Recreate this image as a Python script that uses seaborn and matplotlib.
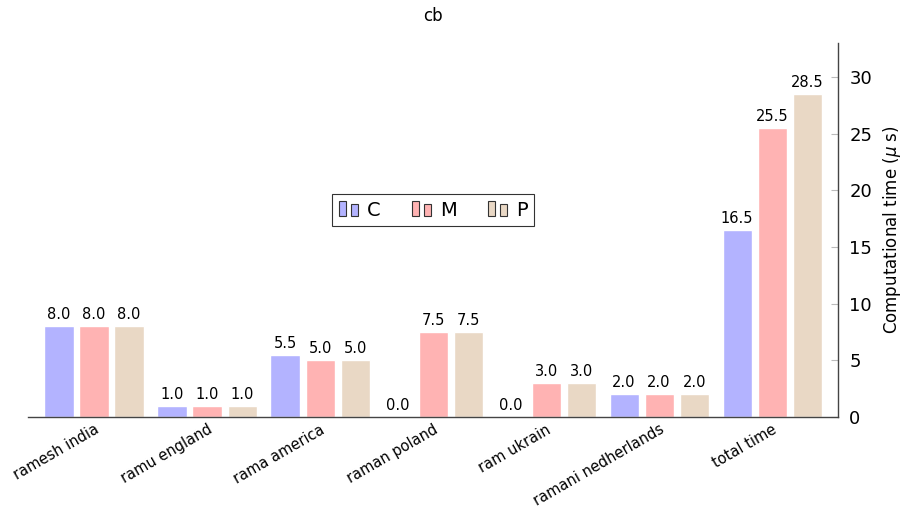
import matplotlib
matplotlib.use("Agg")
import matplotlib.pyplot as plt
import seaborn as sns
import pandas as pd
from matplotlib.legend_handler import HandlerBase
from matplotlib.patches import Rectangle

categories = ["ramesh india", "ramu england", "rama america", "raman poland",
              "ram ukrain", "ramani nedherlands", "total time"]
series_names = ["C", "M", "P"]
C_vals = [8.0, 1.0, 5.5, 0.0, 0.0, 2.0, 16.5]
M_vals = [8.0, 1.0, 5.0, 7.5, 3.0, 2.0, 25.5]
P_vals = [8.0, 1.0, 5.0, 7.5, 3.0, 2.0, 28.5]
colors = ["#b3b3ff", "#ffb3b3", "#e9d8c5"]

rows = []
for name, vals in zip(series_names, [C_vals, M_vals, P_vals]):
    for cat, v in zip(categories, vals):
        rows.append({"cat": cat, "series": name, "value": v})
df = pd.DataFrame(rows)

sns.set_style("white")
plt.rcParams['font.family'] = ['DejaVu Sans']
plt.rcParams['text.color'] = 'black'
plt.rcParams['axes.labelcolor'] = 'black'
plt.rcParams['xtick.labelcolor'] = 'black'
plt.rcParams['ytick.labelcolor'] = 'black'

fig = plt.figure(figsize=(9.18, 5.28), dpi=100)
ax = fig.add_axes([0.0305, 0.2102, 0.8825, 0.7084])

sns.barplot(data=df, x="cat", y="value", hue="series", order=categories,
            hue_order=series_names, palette=colors, width=0.93, gap=0.17,
            saturation=1, ax=ax, legend=False, errorbar=None)

for cont in ax.containers:
    ax.bar_label(cont, fmt="%.1f", padding=3, fontsize=10.5, color="black")

ax.set_xlim(-0.584, 6.584)
ax.set_ylim(0, 33)
ax.set_xlabel("")
ax.set_title("cb", fontsize=12, pad=16, color="black")

ax.yaxis.tick_right()
ax.yaxis.set_label_position("right")
ax.set_ylabel(r"Computational time ($\mu$ s)", fontsize=12, labelpad=6)
ax.set_yticks([0, 5, 10, 15, 20, 25, 30])
ax.tick_params(axis="y", direction="in", length=5, color="#bbbbbb", labelsize=13, pad=8,
               right=True, left=False, labelcolor="black")
ax.tick_params(axis="x", direction="in", length=5, color="#bbbbbb", labelsize=10.5,
               bottom=True, labelcolor="black")
for lbl in ax.get_xticklabels():
    lbl.set_rotation(30)
    lbl.set_ha("right")
    lbl.set_rotation_mode("anchor")

for side in ["left", "top"]:
    ax.spines[side].set_visible(False)
for side in ["right", "bottom"]:
    ax.spines[side].set_visible(True)
    ax.spines[side].set_color("#444444")
    ax.spines[side].set_linewidth(1.0)


class TwoBarHandler(HandlerBase):
    def __init__(self, color):
        super().__init__()
        self.color = color

    def create_artists(self, legend, orig_handle, xdescent, ydescent, width,
                       height, fontsize, trans):
        h = height * 1.1
        w = width * 0.3
        r1 = Rectangle((-xdescent, -ydescent), w, h,
                       facecolor=self.color, edgecolor="#333333", lw=0.8, transform=trans)
        r2 = Rectangle((-xdescent + w * 1.8, -ydescent), w, h * 0.8,
                       facecolor=self.color, edgecolor="#333333", lw=0.8, transform=trans)
        return [r1, r2]


handles = [Rectangle((0, 0), 1, 1, color=c) for c in colors]
hmap = {h: TwoBarHandler(c) for h, c in zip(handles, colors)}
leg = ax.legend(handles, series_names, handler_map=hmap, ncol=3, loc="center",
                bbox_to_anchor=(0.5, 0.553), fontsize=14, frameon=True, fancybox=False,
                edgecolor="black", handlelength=1.2, handletextpad=0.25, columnspacing=1.6,
                borderpad=0.35)
leg.get_frame().set_linewidth(0.8)

fig.savefig("out.png", dpi=100)
